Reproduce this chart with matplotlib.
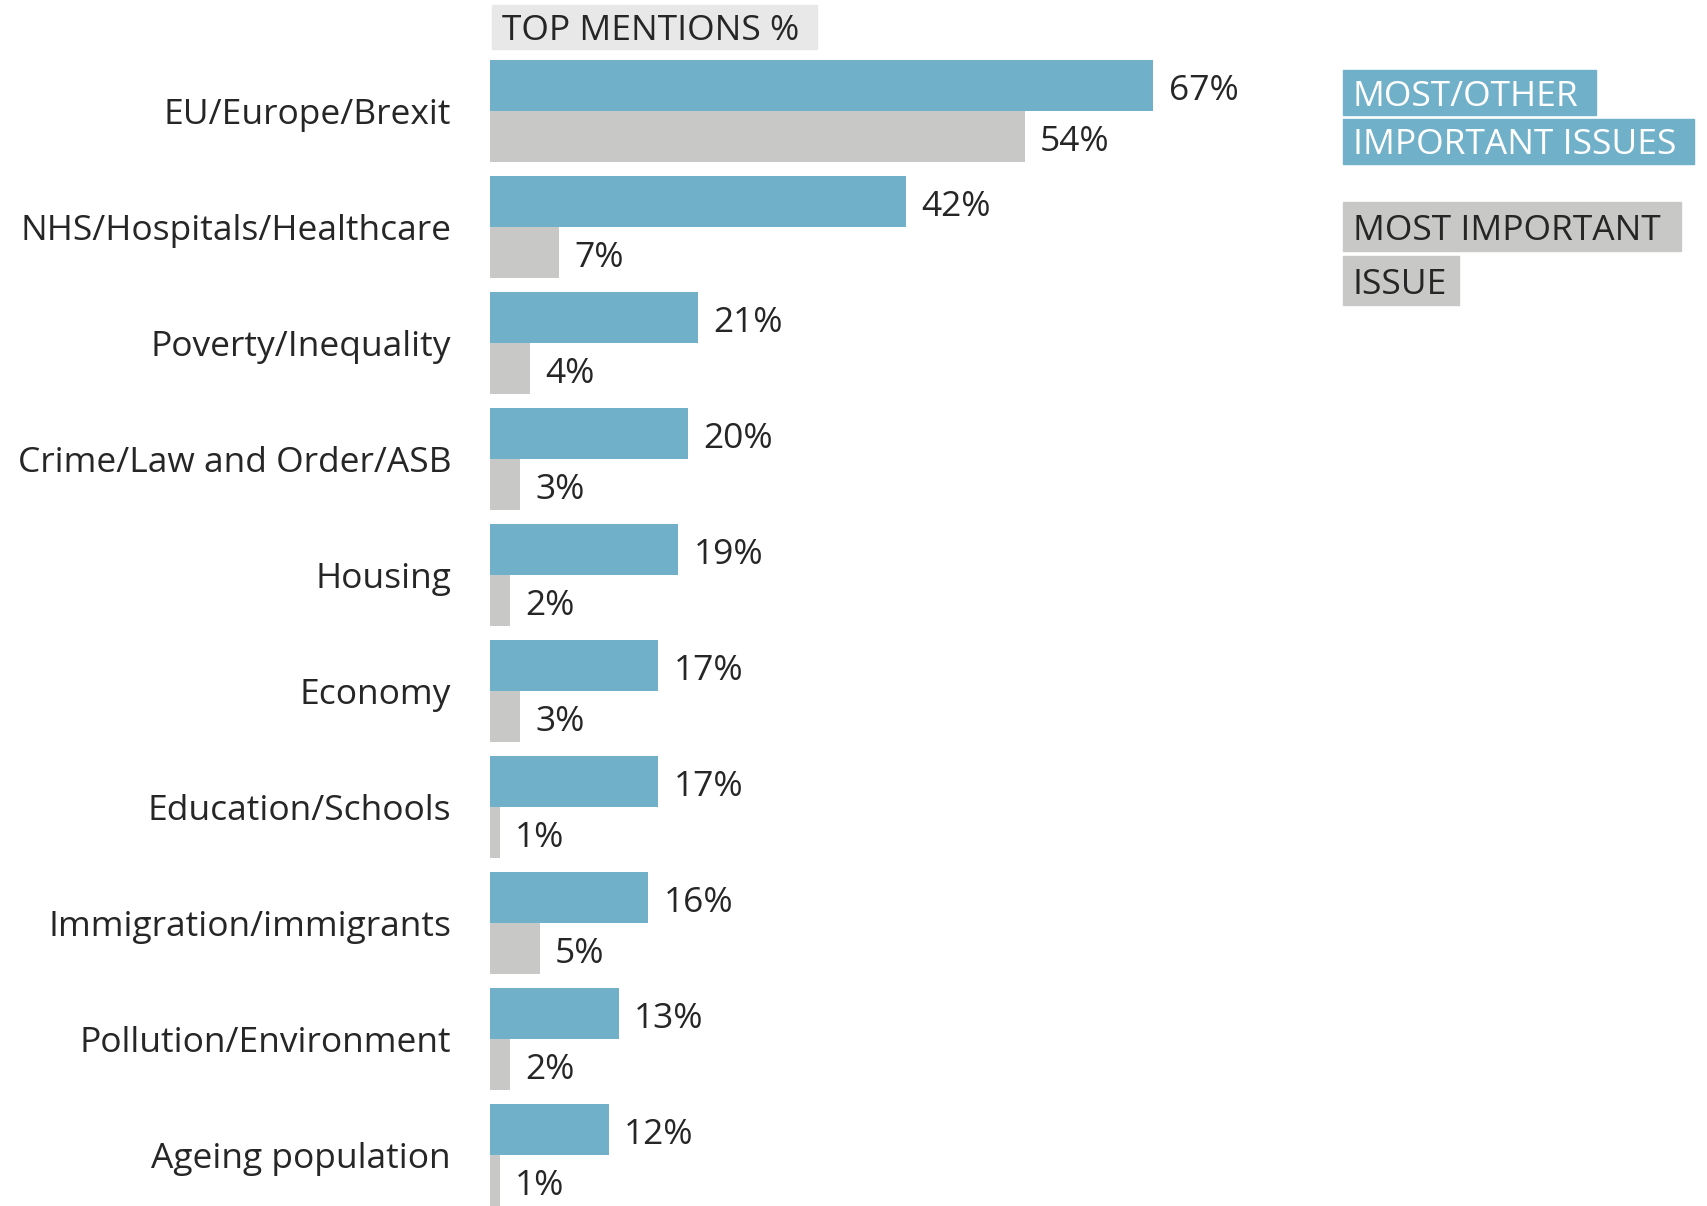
import matplotlib.pyplot as plt
from matplotlib.patches import Rectangle
import numpy as np

plt.rcParams['font.family'] = ['Open Sans', 'DejaVu Sans']

categories = ['EU/Europe/Brexit', 'NHS/Hospitals/Healthcare', 'Poverty/Inequality',
              'Crime/Law and Order/ASB', 'Housing', 'Economy', 'Education/Schools',
              'Immigration/immigrants', 'Pollution/Environment', 'Ageing population']
most_other = [67, 42, 21, 20, 19, 17, 17, 16, 13, 12]
most_important = [54, 7, 4, 3, 2, 3, 1, 5, 2, 1]

BLUE = '#70b1c9'
GREY = '#c8c8c7'
TEXT = '#262626'
W, H = 1707, 1206
FS = 25.5

fig = plt.figure(figsize=(W / 100, H / 100), dpi=100)
ax = fig.add_axes([490 / W, 0, 990 / W, 1 - 60 / H])

y = np.arange(len(categories))
bh = 0.44
ax.barh(y - bh / 2, most_other, height=bh, color=BLUE)
ax.barh(y + bh / 2, most_important, height=bh, color=GREY)
ax.set_xlim(0, 100)
ax.set_ylim(len(categories) - 1 + bh, -bh)

for i, (a, b) in enumerate(zip(most_other, most_important)):
    ax.annotate(f'{a}%', (a, i - bh / 2), xytext=(11, -1), textcoords='offset points',
                va='center_baseline', ha='left', fontsize=FS, color=TEXT)
    ax.annotate(f'{b}%', (b, i + bh / 2), xytext=(11, -1), textcoords='offset points',
                va='center_baseline', ha='left', fontsize=FS, color=TEXT)

ax.set_yticks(y)
ax.set_yticklabels(categories, fontsize=FS, color=TEXT, va='center_baseline')
ax.tick_params(axis='y', length=0, pad=28)
ax.set_xticks([])
for s in ax.spines.values():
    s.set_visible(False)


def box_label(x0, y0, x1, y1, text, bg, fg):
    # pixel box, y measured from top
    fig.patches.append(Rectangle((x0 / W, 1 - y1 / H), (x1 - x0) / W, (y1 - y0) / H,
                                 transform=fig.transFigure, color=bg, zorder=0))
    fig.text((x0 + 10) / W, 1 - (y0 + y1) / 2 / H, text, fontsize=FS, color=fg,
             va='center_baseline', ha='left')


box_label(492, 5, 817, 49, 'TOP MENTIONS %', '#e8e8e8', TEXT)
box_label(1343, 70, 1596, 115, 'MOST/OTHER', BLUE, 'white')
box_label(1343, 119, 1694, 164, 'IMPORTANT ISSUES', BLUE, 'white')
box_label(1343, 202, 1681, 251, 'MOST IMPORTANT', GREY, TEXT)
box_label(1343, 256, 1459, 305, 'ISSUE', GREY, TEXT)

fig.savefig('out.png', dpi=100)
